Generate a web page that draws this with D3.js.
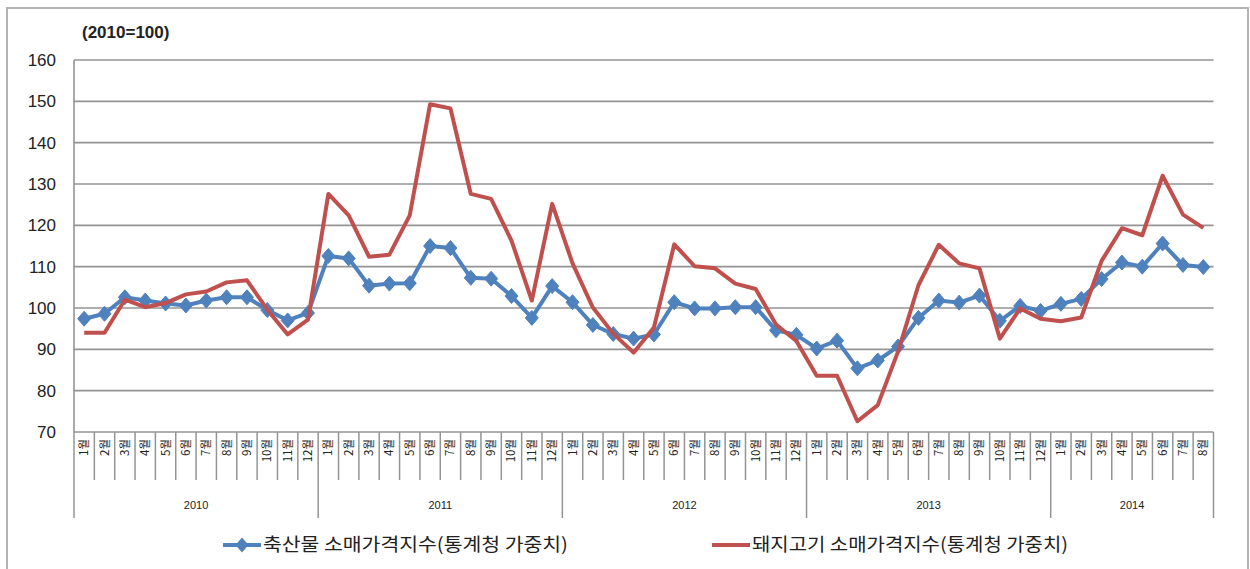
<!DOCTYPE html>
<html><head><meta charset="utf-8">
<script src="https://cdn.jsdelivr.net/npm/d3@7"></script>
<style>html,body{margin:0;padding:0;background:#fff;}svg{display:block;}</style>
</head><body>
<svg id="c" width="1250" height="569"></svg>
<script>
const years = ["2010","2011","2012","2013","2014"];
const monthsPerYear = [12,12,12,12,8];
const yTicks = [70,80,90,100,110,120,130,140,150,160];
const seriesNames = ["축산물 소매가격지수(통계청 가중치)","돼지고기 소매가격지수(통계청 가중치)"];
const livestock = [
  97.4, 98.6, 102.6, 101.8, 101.1, 100.6, 101.8, 102.6, 102.6, 99.5, 97.0, 98.8,
  112.6, 112.0, 105.4, 105.9, 106.0, 115.0, 114.5, 107.3, 107.1, 102.9, 97.6, 105.3,
  101.4, 95.9, 93.7, 92.6, 93.6, 101.4, 99.9, 99.9, 100.2, 100.2, 94.6, 93.5,
  90.2, 92.1, 85.4, 87.3, 90.7, 97.6, 101.8, 101.3, 103.0, 96.9, 100.5, 99.3,
  101.0, 102.2, 107.0, 111.0, 110.0, 115.6, 110.4, 109.9
];
const pork = [
  94.0, 94.0, 102.0, 100.2, 101.2, 103.3, 104.0, 106.2, 106.7, 99.6, 93.6, 97.2,
  127.6, 122.4, 112.4, 112.9, 122.4, 149.3, 148.3, 127.6, 126.4, 116.3, 101.8, 125.2,
  110.8, 100.1, 93.8, 89.2, 95.3, 115.4, 110.1, 109.6, 105.9, 104.6, 96.0, 92.0,
  83.6, 83.6, 72.6, 76.5, 89.5, 105.5, 115.3, 110.8, 109.6, 92.6, 99.9, 97.4,
  96.8, 97.7, 111.4, 119.3, 117.6, 132.0, 122.6, 119.4
];

(function(){
const cats = [];
years.forEach((yr,i)=>{ for(let m=1;m<=monthsPerYear[i];m++) cats.push({year:yr, month:m, label:m+"월"}); });

const svg = d3.select("#c");
const pL=74, pR=1213.5, pT=60, pB=432;
const x = d3.scaleBand().domain(d3.range(cats.length)).range([pL,pR]);
const y = d3.scaleLinear().domain([70,160]).range([pB,pT]);
const bw = x.bandwidth();

svg.append("rect").attr("x",7).attr("y",8).attr("width",1241).attr("height",580)
  .attr("fill","#fff").attr("stroke","#b4b4b4").attr("stroke-width",2);

svg.append("g").selectAll("line").data(yTicks).join("line")
  .attr("x1",pL).attr("x2",pR).attr("y1",d=>y(d)).attr("y2",d=>y(d))
  .attr("stroke","#949494").attr("stroke-width",1.6);

svg.append("line").attr("x1",pL).attr("x2",pL).attr("y1",pT).attr("y2",pB)
  .attr("stroke","#949494").attr("stroke-width",1.6);

svg.append("g").selectAll("text").data(yTicks).join("text")
  .attr("x",56).attr("y",d=>y(d)).attr("dy","0.36em").attr("text-anchor","end")
  .attr("font-family","Liberation Sans, Arial, sans-serif").attr("font-size",17).attr("fill","#222")
  .text(d=>d);

svg.append("text").attr("x",82).attr("y",38)
  .attr("font-family","Liberation Sans, Arial, sans-serif").attr("font-size",17).attr("font-weight","bold").attr("fill","#222")
  .text("(2010=100)");

const gx = svg.append("g");
const bounds = d3.range(cats.length+1);
const yearStarts = [];
let acc=0; monthsPerYear.forEach(n=>{yearStarts.push(acc); acc+=n;}); yearStarts.push(acc);
const bx = i => i<cats.length? x(i): x(cats.length-1)+bw;
gx.selectAll("line.m").data(bounds).join("line")
  .attr("x1",bx).attr("x2",bx)
  .attr("y1",pB).attr("y2",i=> yearStarts.includes(i)?518:480)
  .attr("stroke","#949494").attr("stroke-width",1.5);
gx.selectAll("text.m").data(cats).join("text")
  .attr("transform",(d,i)=>`translate(${x(i)+bw/2+4},439) rotate(-90)`)
  .attr("text-anchor","end")
  .attr("font-family","Noto Sans CJK KR, sans-serif").attr("font-size",11.5).attr("fill","#222")
  .text(d=>d.label);
gx.selectAll("text.y").data(years).join("text")
  .attr("x",(d,i)=>(bx(yearStarts[i])+bx(yearStarts[i+1]))/2)
  .attr("y",509).attr("text-anchor","middle")
  .attr("font-family","Liberation Sans, Arial, sans-serif").attr("font-size",11).attr("fill","#222")
  .text(d=>d);

const blue="#4F81BD", red="#C0504D";
const line = d3.line().x((d,i)=>x(i)+bw/2).y(d=>y(d));
svg.append("path").datum(livestock).attr("d",line).attr("fill","none").attr("stroke",blue).attr("stroke-width",4).attr("stroke-linejoin","round");
const diamond = "M0,-7.5L6.5,0L0,7.5L-6.5,0Z";
svg.append("g").selectAll("path").data(livestock).join("path")
  .attr("transform",(d,i)=>`translate(${x(i)+bw/2},${y(d)})`).attr("d",diamond).attr("fill",blue).attr("stroke",blue).attr("stroke-width",1);
svg.append("path").datum(pork).attr("d",line).attr("fill","none").attr("stroke",red).attr("stroke-width",4).attr("stroke-linejoin","round");

const lg = svg.append("g");
lg.append("line").attr("x1",223).attr("x2",261).attr("y1",545).attr("y2",545).attr("stroke",blue).attr("stroke-width",4);
lg.append("path").attr("transform","translate(242,545)").attr("d",diamond).attr("fill",blue);
lg.append("text").attr("x",263).attr("y",545).attr("dy","0.36em")
  .attr("font-family","Noto Sans CJK KR, sans-serif").attr("font-size",18).attr("fill","#222")
  .attr("textLength",305).attr("lengthAdjust","spacingAndGlyphs").text(seriesNames[0]);
lg.append("line").attr("x1",712).attr("x2",750).attr("y1",545).attr("y2",545).attr("stroke",red).attr("stroke-width",4);
lg.append("text").attr("x",752).attr("y",545).attr("dy","0.36em")
  .attr("font-family","Noto Sans CJK KR, sans-serif").attr("font-size",18).attr("fill","#222")
  .attr("textLength",316).attr("lengthAdjust","spacingAndGlyphs").text(seriesNames[1]);
})();
</script>
</body></html>
